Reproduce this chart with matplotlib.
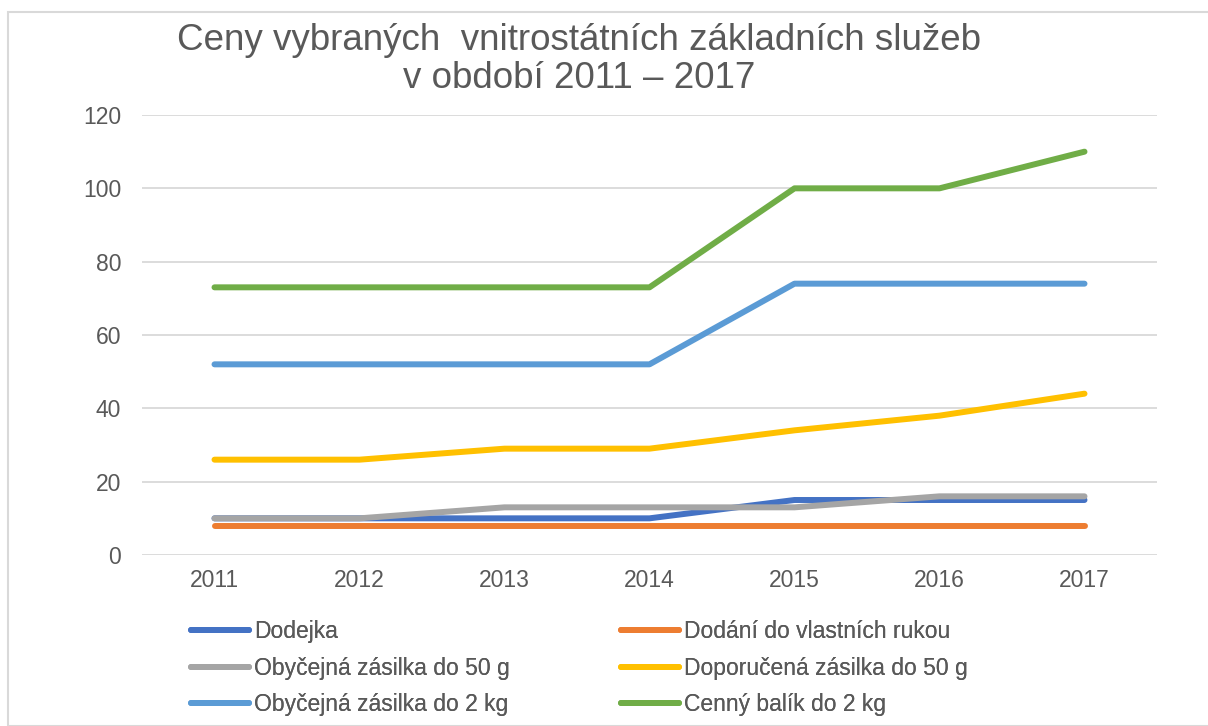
import matplotlib
matplotlib.use("Agg")
import matplotlib.pyplot as plt
from matplotlib.patches import Rectangle

years = ["2011", "2012", "2013", "2014", "2015", "2016", "2017"]
dodejka = [10, 10, 10, 10, 15, 15, 15]
dodani_rukou = [8, 8, 8, 8, 8, 8, 8]
obycejna_50g = [10, 10, 13, 13, 13, 16, 16]
doporucena_50g = [26, 26, 29, 29, 34, 38, 44]
obycejna_2kg = [52, 52, 52, 52, 74, 74, 74]
cenny_2kg = [73, 73, 73, 73, 100, 100, 110]

series = [
    ("Dodejka", dodejka, "#4472C4"),
    ("Dodání do vlastních rukou", dodani_rukou, "#ED7D31"),
    ("Obyčejná zásilka do 50 g", obycejna_50g, "#A5A5A5"),
    ("Doporučená zásilka do 50 g", doporucena_50g, "#FFC000"),
    ("Obyčejná zásilka do 2 kg", obycejna_2kg, "#5B9BD5"),
    ("Cenný balík do 2 kg", cenny_2kg, "#70AD47"),
]

plt.rcParams['font.family'] = ['Liberation Sans', 'DejaVu Sans']

W, H = 1208, 726
fig = plt.figure(figsize=(W / 100, H / 100), dpi=100)
fig.patches.append(Rectangle((8 / W, 0), 1.2, 1 - 12 / H, transform=fig.transFigure,
                             fill=False, edgecolor="#D9D9D9", linewidth=1.5))

left, right, top, bottom = 142, 1157, 115, 555
ax = fig.add_axes([left / W, 1 - bottom / H, (right - left) / W, (bottom - top) / H])

x = list(range(len(years)))
handles = {}
for name, vals, col in series:
    h, = ax.plot(x, vals, color=col, linewidth=4.3, solid_capstyle="round",
                 solid_joinstyle="round", label=name)
    handles[name] = h

ax.set_xlim(-0.5, len(years) - 0.5)
ax.set_ylim(0, 120)
ax.set_yticks(range(0, 121, 20))
ax.set_xticks(x)
ax.set_xticklabels(years)
ax.grid(axis="y", color="#D9D9D9", linewidth=1.3)
ax.set_axisbelow(True)
for s in ax.spines.values():
    s.set_visible(False)
ax.tick_params(length=0, labelsize=16.5, colors="#595959")
ax.tick_params(axis="x", pad=10)
ax.tick_params(axis="y", pad=15)

fig.text(579 / W, 1 - 40 / H, "Ceny vybraných  vnitrostátních základních služeb",
         ha="center", va="center", fontsize=26.5, color="#595959")
fig.text(579 / W, 1 - 78 / H, "v období 2011 – 2017",
         ha="center", va="center", fontsize=26.5, color="#595959")

cols = [
    (191, ["Dodejka", "Obyčejná zásilka do 50 g", "Obyčejná zásilka do 2 kg"]),
    (621, ["Dodání do vlastních rukou", "Doporučená zásilka do 50 g", "Cenný balík do 2 kg"]),
]
for xpos, names in cols:
    leg = fig.legend([handles[n] for n in names], names, ncol=1,
                     loc="upper left", bbox_to_anchor=(xpos / W, 1 - 620 / H),
                     frameon=False, fontsize=16.5, handlelength=2.55, handletextpad=0.2,
                     labelspacing=0.6, borderaxespad=0, borderpad=0)
    for t in leg.get_texts():
        t.set_color("#595959")
    fig.add_artist(leg)

fig.savefig("out.png", dpi=100)
